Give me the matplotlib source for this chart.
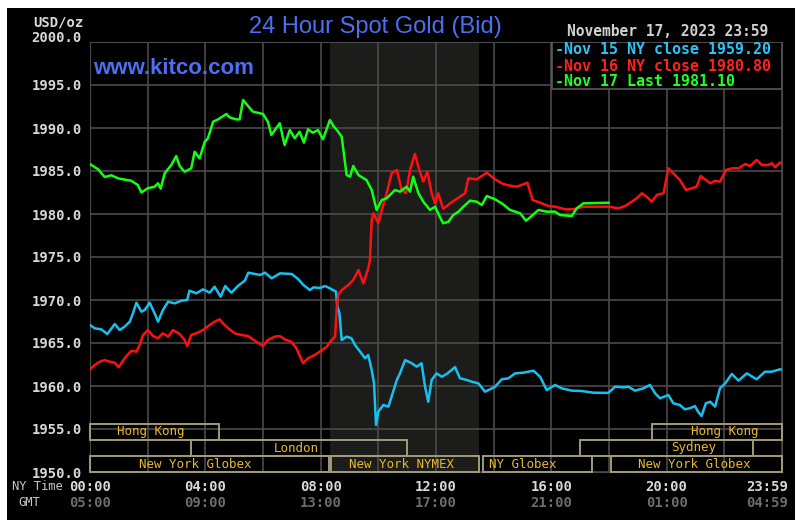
import matplotlib
matplotlib.use('Agg')
import matplotlib.pyplot as plt
from matplotlib.patches import Rectangle

# ---- data (hours NY time, USD/oz) ----
t_nov15 = [0.00, 0.16, 0.39, 0.60, 0.86, 1.03, 1.20, 1.38, 1.49, 1.61, 1.78, 1.90, 2.07, 2.24, 2.36,
           2.53, 2.71, 2.94, 3.17, 3.37, 3.45, 3.69, 3.92, 4.15, 4.32, 4.53, 4.69, 4.90, 5.13, 5.37,
           5.49, 5.90, 6.07, 6.30, 6.59, 7.00, 7.23, 7.40, 7.63, 7.75, 7.98, 8.15, 8.32, 8.53, 8.58,
           8.65, 8.73, 8.90, 9.07, 9.19, 9.37, 9.54, 9.65, 9.77, 9.85, 9.92, 10.00, 10.17, 10.35, 10.46,
           10.64, 10.75, 10.93, 11.16, 11.33, 11.50, 11.62, 11.73, 11.85, 12.02, 12.20, 12.37, 12.54, 12.66, 12.83,
           13.07, 13.24, 13.47, 13.70, 13.87, 14.05, 14.28, 14.51, 14.74, 15.03, 15.38, 15.61, 15.84, 16.13, 16.36,
           16.71, 17.05, 17.46, 17.98, 18.21, 18.50, 18.67, 18.90, 19.19, 19.42, 19.60, 19.77, 20.06, 20.23, 20.46,
           20.63, 20.81, 20.98, 21.09, 21.21, 21.36, 21.51, 21.68, 21.85, 22.03, 22.26, 22.49, 22.78, 23.12, 23.41,
           23.64, 23.93, 24.00]
p_nov15 = [1967.09, 1966.71, 1966.59, 1966.05, 1967.21, 1966.51, 1966.90, 1967.48, 1968.45, 1969.69, 1968.64, 1968.84, 1969.69, 1968.45, 1967.48,
           1968.84, 1969.80, 1969.61, 1969.92, 1970.00, 1971.08, 1970.78, 1971.24, 1970.85, 1971.55, 1970.38, 1971.63, 1970.85, 1971.63, 1972.25,
           1973.18, 1972.91, 1973.18, 1972.52, 1973.10, 1973.02, 1972.40, 1971.74, 1971.16, 1971.47, 1971.40, 1971.63, 1971.36, 1970.97, 1969.22,
           1968.45, 1965.35, 1965.74, 1965.55, 1964.77, 1963.99, 1963.22, 1963.60, 1961.86, 1960.31, 1955.47, 1957.01, 1957.79, 1957.60, 1958.76,
           1960.70, 1961.47, 1963.02, 1962.64, 1962.25, 1962.64, 1959.92, 1958.17, 1960.70, 1961.47, 1961.08, 1961.40, 1961.86, 1962.20, 1960.90,
           1960.70, 1960.50, 1960.31, 1959.34, 1959.61, 1959.92, 1960.78, 1960.89, 1961.47, 1961.55, 1961.78, 1961.08, 1959.53, 1960.12, 1959.73,
           1959.46, 1959.42, 1959.22, 1959.20, 1959.92, 1959.85, 1959.92, 1959.46, 1959.73, 1960.12, 1959.15, 1958.57, 1958.95, 1957.99, 1957.79,
           1957.29, 1957.41, 1957.67, 1957.01, 1956.51, 1957.99, 1958.17, 1957.60, 1959.73, 1960.31, 1961.40, 1960.62, 1961.47, 1960.78, 1961.66,
           1961.66, 1961.94, 1961.90]

t_nov16 = [0.00, 0.16, 0.34, 0.51, 0.68, 0.86, 0.99, 1.20, 1.43, 1.61, 1.72, 1.84, 2.01, 2.19, 2.36,
           2.53, 2.71, 2.88, 3.11, 3.28, 3.37, 3.51, 3.69, 3.92, 4.15, 4.32, 4.50, 4.61, 4.79, 5.02,
           5.25, 5.48, 5.77, 6.00, 6.17, 6.41, 6.58, 6.75, 6.98, 7.16, 7.39, 7.56, 7.79, 8.02, 8.21,
           8.38, 8.50, 8.56, 8.61, 8.73, 8.96, 9.13, 9.31, 9.48, 9.65, 9.71, 9.77, 9.83, 10.00, 10.12,
           10.29, 10.46, 10.64, 10.81, 10.96, 11.10, 11.27, 11.42, 11.56, 11.70, 11.85, 11.97, 12.08, 12.25, 12.49,
           12.83, 13.01, 13.12, 13.41, 13.76, 14.05, 14.28, 14.45, 14.80, 15.17, 15.35, 15.61, 15.90, 16.13, 16.48,
           16.77, 17.11, 17.98, 18.33, 18.56, 18.79, 18.96, 19.14, 19.31, 19.48, 19.66, 19.89, 20.06, 20.23, 20.46,
           20.67, 20.87, 21.04, 21.18, 21.33, 21.51, 21.68, 21.85, 22.06, 22.26, 22.49, 22.72, 22.90, 23.12, 23.30,
           23.53, 23.65, 23.76, 23.93, 24.00]
p_nov16 = [1961.94, 1962.44, 1962.83, 1963.02, 1962.83, 1962.71, 1962.17, 1963.22, 1964.10, 1963.99, 1964.77, 1965.93, 1966.51, 1965.81, 1965.55,
           1966.13, 1965.74, 1966.51, 1966.05, 1965.35, 1964.65, 1965.93, 1966.13, 1966.51, 1967.09, 1967.48, 1967.75, 1967.29, 1966.71, 1966.13,
           1965.93, 1965.81, 1965.15, 1964.65, 1965.35, 1965.74, 1965.81, 1965.43, 1965.15, 1964.38, 1962.64, 1963.22, 1963.60, 1964.10, 1964.57,
           1965.35, 1965.74, 1969.22, 1970.58, 1971.16, 1971.74, 1972.33, 1973.49, 1971.94, 1973.68, 1974.65, 1979.30, 1980.08, 1978.92, 1980.47,
           1982.41, 1984.73, 1985.12, 1982.79, 1982.41, 1985.12, 1986.98, 1985.12, 1983.76, 1984.92, 1982.41, 1981.24, 1982.41, 1980.60, 1981.24,
           1982.01, 1982.41, 1984.15, 1984.03, 1984.80, 1984.03, 1983.57, 1983.37, 1983.17, 1983.64, 1981.63, 1981.32, 1980.93, 1980.85, 1980.55,
           1980.55, 1980.85, 1980.85, 1980.66, 1980.93, 1981.43, 1981.83, 1982.41, 1982.01, 1981.43, 1982.21, 1982.41, 1985.31, 1984.73, 1983.95,
           1982.79, 1982.99, 1983.17, 1984.42, 1984.03, 1983.57, 1983.87, 1983.76, 1985.12, 1985.31, 1985.31, 1985.81, 1985.58, 1986.28, 1985.70,
           1985.70, 1985.90, 1985.43, 1985.97, 1985.90]

t_nov17 = [0.00, 0.28, 0.51, 0.74, 0.97, 1.20, 1.43, 1.66, 1.78, 2.01, 2.24, 2.36, 2.45, 2.59, 2.82,
           2.99, 3.11, 3.28, 3.51, 3.63, 3.80, 3.98, 4.09, 4.27, 4.44, 4.73, 4.84, 5.07, 5.19, 5.31,
           5.42, 5.65, 6.00, 6.17, 6.29, 6.58, 6.75, 6.93, 7.10, 7.27, 7.42, 7.56, 7.73, 7.91, 8.08,
           8.32, 8.45, 8.56, 8.73, 8.90, 9.02, 9.13, 9.31, 9.59, 9.77, 9.94, 10.12, 10.29, 10.58, 10.75,
           10.98, 11.10, 11.21, 11.39, 11.56, 11.79, 11.97, 12.14, 12.25, 12.43, 12.60, 12.78, 12.95, 13.18, 13.41,
           13.59, 13.76, 14.05, 14.28, 14.57, 14.92, 15.12, 15.32, 15.55, 15.84, 16.13, 16.30, 16.71, 16.88, 17.11,
           17.98]
p_nov17 = [1985.80, 1985.20, 1984.30, 1984.50, 1984.15, 1984.00, 1983.87, 1983.37, 1982.50, 1983.00, 1983.17, 1983.57, 1982.94, 1984.73, 1985.70,
           1986.74, 1985.58, 1984.92, 1985.30, 1987.24, 1986.47, 1988.40, 1988.80, 1990.73, 1991.00, 1991.63, 1991.24, 1991.00, 1991.00, 1993.26,
           1992.80, 1991.90, 1991.63, 1990.73, 1989.19, 1990.55, 1988.02, 1989.77, 1988.80, 1989.57, 1988.29, 1989.85, 1989.45, 1989.77, 1988.68,
           1990.93, 1990.20, 1989.77, 1988.99, 1984.53, 1984.34, 1985.58, 1984.53, 1983.95, 1982.79, 1980.47, 1981.63, 1981.83, 1982.79, 1982.60,
           1983.17, 1982.60, 1984.34, 1982.41, 1981.43, 1980.47, 1980.85, 1979.60, 1978.92, 1979.10, 1979.88, 1980.27, 1980.85, 1981.55, 1981.43,
           1981.05, 1982.09, 1981.71, 1981.24, 1980.47, 1980.08, 1979.22, 1979.77, 1980.47, 1980.27, 1980.27, 1979.88, 1979.77, 1980.66, 1981.24,
           1981.31]

legend_labels = ['-Nov 15 NY close 1959.20', '-Nov 16 NY close 1980.80', '-Nov 17 Last 1981.10']

# market sessions: name, start hour, end hour, row (0 = bottom)
sess_names = ['Hong Kong', 'London', 'New York Globex', 'New York NYMEX', 'NY Globex',
              'Hong Kong', 'Sydney', 'New York Globex']
sess_start = [0.0, 3.5, 0.0, 8.37, 13.63, 19.5, 17.0, 18.07]
sess_end = [4.47, 11.0, 8.3, 13.5, 17.4, 24.0, 23.0, 24.0]
sess_row = [2, 1, 0, 0, 0, 2, 1, 0]
sess_label_x = [2.1, 7.15, 3.64, 10.79, 15.02, 22.03, 20.95, 20.95]

ny_ticks = [0, 4, 8, 12, 16, 20, 24]
ny_labels = ['00:00', '04:00', '08:00', '12:00', '16:00', '20:00', '23:59']
gmt_labels = ['05:00', '09:00', '13:00', '17:00', '21:00', '01:00', '04:59']

W, H = 803, 527
mono = 'DejaVu Sans Mono'

fig = plt.figure(figsize=(W / 100, H / 100), dpi=100, facecolor='white')
fig.patches.append(Rectangle((7 / W, 7 / H), 788 / W, 512 / H, transform=fig.transFigure,
                             facecolor='black', edgecolor='none', zorder=-1))

ax = fig.add_axes([90 / W, 55 / H, 692 / W, 430 / H])
ax.set_zorder(1)
ax.set_facecolor('black')
ax.set_xlim(0, 24)
ax.set_ylim(1950, 2000)

# NYMEX pit hours shading
ax.axvspan(8 + 20 / 60, 13.5, color='#1c1c1a', zorder=0.5, lw=0)

gridc = '#4a4a4a'
for x in range(0, 25, 2):
    ax.axvline(x, color=gridc, lw=1.2, zorder=1)
for y in range(1950, 2001, 5):
    ax.axhline(y, color=gridc, lw=1.2, zorder=1)
for s in ax.spines.values():
    s.set_color(gridc)

ax.plot(t_nov15, p_nov15, color='#18c0f0', lw=1.8, zorder=3)
ax.plot(t_nov16, p_nov16, color='#ff1010', lw=1.8, zorder=3)
ax.plot(t_nov17, p_nov17, color='#14ff14', lw=1.8, zorder=3)

# y axis
yt = list(range(1950, 2001, 5))
ax.set_yticks(yt)
ax.set_yticklabels(['%.1f' % v for v in yt], family=mono, weight='bold', size=10, color='#d8d8d8')
ax.tick_params(axis='y', length=0, pad=6)
ax.get_yticklabels()[-1].set_verticalalignment('baseline')
ax.set_xticks([])

# time labels
xt = ax.get_xaxis_transform()
for i, (x, a, b) in enumerate(zip(ny_ticks, ny_labels, gmt_labels)):
    xx = x + 0.2 if i == len(ny_ticks) - 1 else x
    ha = 'right' if i == len(ny_ticks) - 1 else 'center'
    ax.text(xx, -0.035, a, transform=xt, ha=ha, va='center', family=mono, weight='bold',
            size=10, color='#d8d8d8', clip_on=False)
    ax.text(xx, -0.072, b, transform=xt, ha=ha, va='center', family=mono, weight='bold',
            size=10, color='#6c6c6c', clip_on=False)
fig.text(63 / W, 1 - 487 / H, 'NY Time', ha='right', va='center', family=mono, size=8.7, color='#c8c8c8')
fig.text(29 / W, 1 - 503 / H, 'GMT', ha='center', va='center', family=mono, size=8.7, color='#c8c8c8')

# session boxes
row_h = 16 / 8.6
for name, s0, s1, r, lx in zip(sess_names, sess_start, sess_end, sess_row, sess_label_x):
    y0 = 1950 + r * row_h
    ax.add_patch(Rectangle((s0, y0), s1 - s0, row_h, facecolor='none', edgecolor='#a49c78',
                           lw=1.4, zorder=4, clip_on=False))
    ax.text(lx, y0 + row_h / 2, name, ha='center', va='center', family=mono, size=9,
            color='#e8b830', zorder=5)

# legend box
ax.add_patch(Rectangle((0.6676, 0.8907), 0.3324, 0.1093, transform=ax.transAxes,
                       facecolor='black', edgecolor='#5a5a5a', lw=1.2, zorder=6))
for lab, c, yy in zip(legend_labels, ['#28c4f8', '#ff2020', '#20ff20'], [0.9814, 0.944, 0.909]):
    ax.text(0.672, yy, lab, transform=ax.transAxes, ha='left', va='center', family=mono,
            weight='bold', size=10.8, color=c, zorder=7)

# header texts
fig.text(33 / W, 1 - 22 / H, 'USD/oz', ha='left', va='center', family=mono, weight='bold',
         size=10, color='#d8d8d8')
fig.text(375 / W, 1 - 27 / H, '24 Hour Spot Gold (Bid)', ha='center', va='center',
         family='Liberation Sans', size=17, color='#4d70f2')
fig.text(93 / W, 1 - 68 / H, 'www.kitco.com', ha='left', va='center', family='Liberation Sans',
         weight='bold', size=16, color='#4d70f2')
fig.text(668 / W, 1 - 32 / H, 'November 17, 2023 23:59', ha='center', va='center', family=mono,
         weight='bold', size=10.5, color='#d0d0d0')

fig.savefig('out.png', dpi=100, facecolor='white')
